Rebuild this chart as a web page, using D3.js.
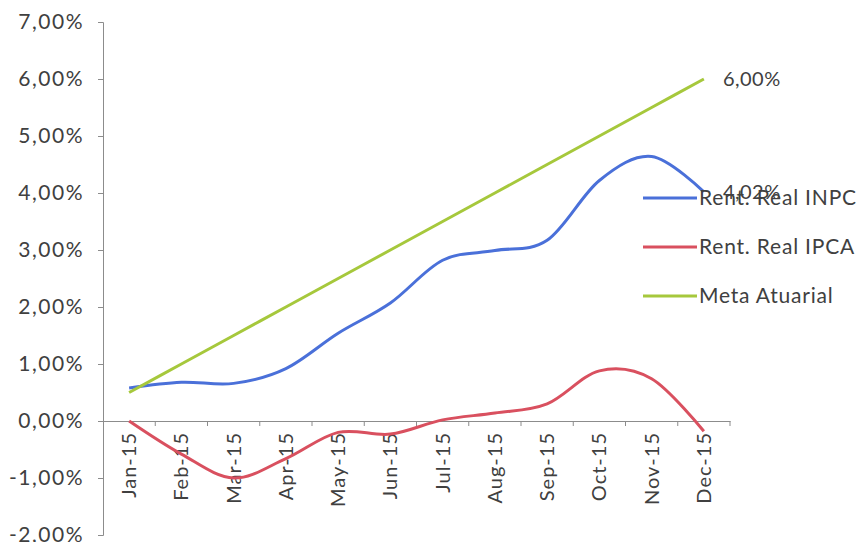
<!DOCTYPE html>
<html>
<head>
<meta charset="utf-8">
<script src="https://cdn.jsdelivr.net/npm/d3@7"></script>
<style>
  body { margin: 0; background: #fff; }
  text { font-family: Lato, "Open Sans", sans-serif; fill: #404040; }
</style>
</head>
<body>
<svg id="chart"></svg>
<script>
const months = ["Jan-15", "Feb-15", "Mar-15", "Apr-15", "May-15", "Jun-15",
                "Jul-15", "Aug-15", "Sep-15", "Oct-15", "Nov-15", "Dec-15"];
const inpc = [0.58, 0.68, 0.66, 0.92, 1.54, 2.07, 2.82, 2.99, 3.17, 4.22, 4.64, 4.02];
const ipca = [0.00, -0.58, -1.00, -0.66, -0.20, -0.23, 0.02, 0.14, 0.30, 0.88, 0.74, -0.18];
const meta = [0.50, 1.00, 1.50, 2.00, 2.50, 3.00, 3.50, 4.00, 4.50, 5.00, 5.50, 6.00];
const yTicks = [-2, -1, 0, 1, 2, 3, 4, 5, 6, 7];

const width = 862, height = 542;
const svg = d3.select("#chart").attr("width", width).attr("height", height);

const x = d3.scaleBand().domain(months).range([103, 730]);
const y = d3.scaleLinear().domain([-2, 7]).range([535, 22]);

const fmt = v => v.toFixed(2).replace(".", ",") + "%";

// y axis
const yAxis = svg.append("g")
    .attr("transform", "translate(103,0)")
    .call(d3.axisLeft(y).tickValues(yTicks).tickSize(5).tickPadding(14).tickFormat(fmt));
yAxis.select(".domain").attr("stroke", "#8c8c8c");
yAxis.selectAll(".tick line").attr("stroke", "#8c8c8c");
yAxis.selectAll("text")
    .style("font-size", "21px")
    .style("letter-spacing", "1.5px")
    .attr("fill", "#404040");

// x axis at zero
const xAxis = svg.append("g")
    .attr("transform", `translate(0,${y(0)})`)
    .call(d3.axisBottom(x).tickSize(0).tickFormat(d => d));
xAxis.select(".domain").attr("stroke", "#8c8c8c");
xAxis.selectAll("text")
    .style("font-size", "20px")
    .style("letter-spacing", "1px")
    .attr("fill", "#404040")
    .attr("transform", "rotate(-90)")
    .attr("text-anchor", "end")
    .attr("x", -11)
    .attr("y", 0)
    .attr("dy", "0.35em");
// ticks between categories
xAxis.selectAll("line.sep")
    .data(months)
    .enter().append("line")
    .attr("class", "sep")
    .attr("x1", d => x(d) + x.bandwidth())
    .attr("x2", d => x(d) + x.bandwidth())
    .attr("y1", 0).attr("y2", 5)
    .attr("stroke", "#8c8c8c");

const cx = d => x(d) + x.bandwidth() / 2;

const series = [
    { name: "Rent. Real INPC", values: inpc, color: "#4a70d9" },
    { name: "Rent. Real IPCA", values: ipca, color: "#d9505f" },
    { name: "Meta Atuarial", values: meta, color: "#a6c83c" }
];

const line = d3.line()
    .x((d, i) => cx(months[i]))
    .y(d => y(d))
    .curve(d3.curveCatmullRom.alpha(0));

svg.selectAll("path.series")
    .data(series)
    .enter().append("path")
    .attr("class", "series")
    .attr("d", d => line(d.values))
    .attr("fill", "none")
    .attr("stroke", d => d.color)
    .attr("stroke-width", 3);

// data labels at the last point
const last = months.length - 1;
[meta, inpc].forEach(vals => {
    svg.append("text")
        .attr("x", cx(months[last]) + 19)
        .attr("y", y(vals[last]))
        .attr("dy", "0.35em")
        .style("font-size", "20px")
        .style("letter-spacing", "0.5px")
        .text(fmt(vals[last]));
});

// legend
const legend = svg.append("g").attr("transform", "translate(643,198)");
series.forEach((s, i) => {
    const ly = i * 49;
    legend.append("line")
        .attr("x1", 0).attr("x2", 54)
        .attr("y1", ly).attr("y2", ly)
        .attr("stroke", s.color)
        .attr("stroke-width", 3);
    legend.append("text")
        .attr("x", 56)
        .attr("y", ly)
        .attr("dy", "0.35em")
        .style("font-size", "21px")
        .style("letter-spacing", "0.8px")
        .text(s.name);
});
</script>
</body>
</html>
